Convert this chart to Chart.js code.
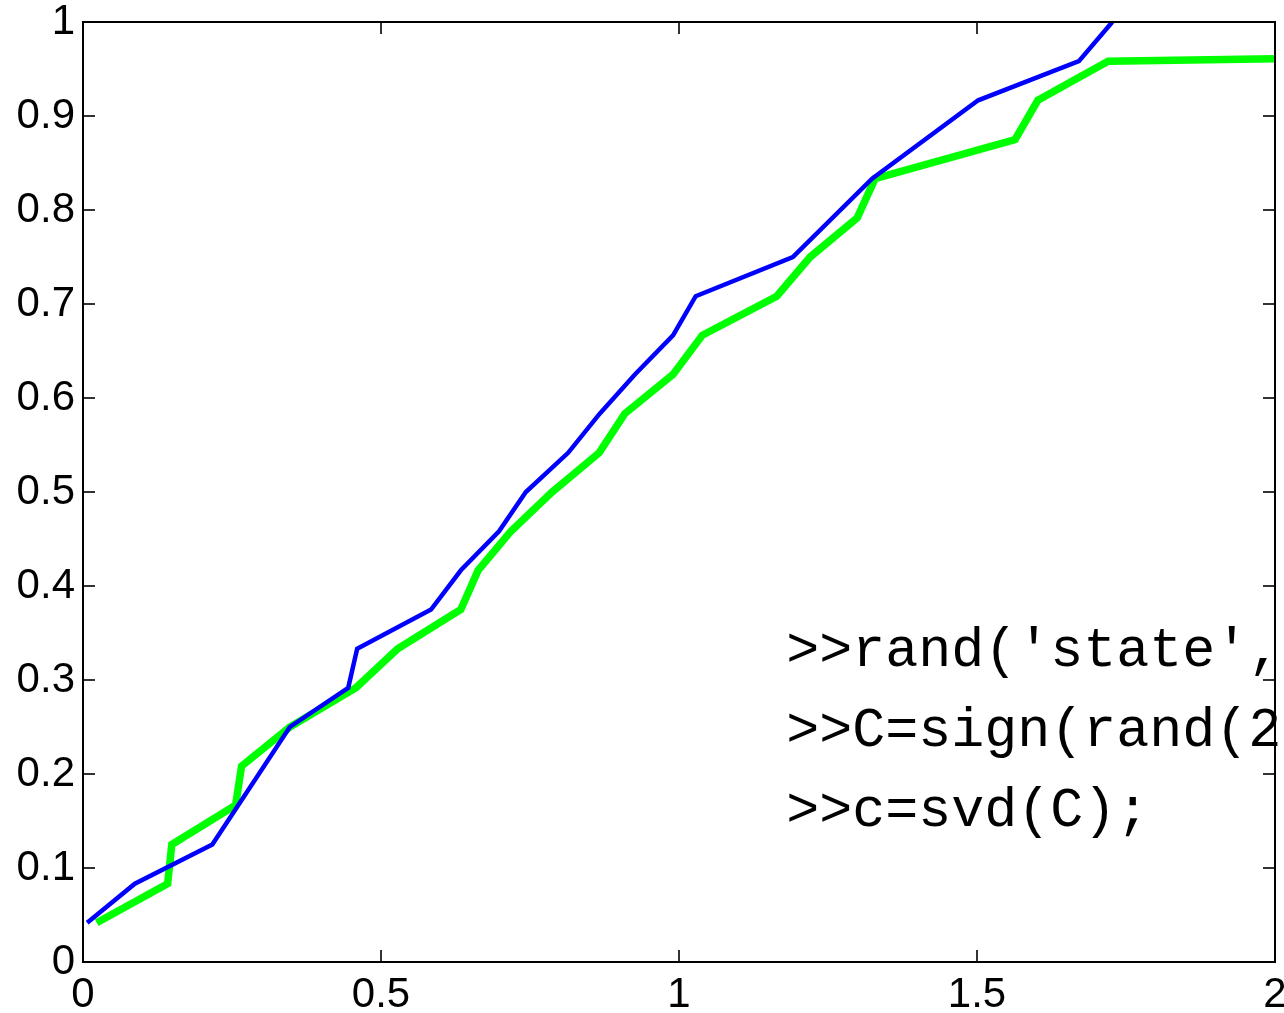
<!DOCTYPE html>
<html>
<head>
<meta charset="utf-8">
<script src="https://cdn.jsdelivr.net/npm/chart.js@4/dist/chart.umd.min.js"></script>
<style>
html,body{margin:0;padding:0;background:#fff;}
#wrap{width:1284px;height:1013px;}
</style>
</head>
<body>
<div id="wrap"><canvas id="c" width="1284" height="1013"></canvas></div>
<script>
// Blue series (x, y)
const blueX = [0.007,0.087,0.217,0.347,0.445,0.460,0.584,0.634,0.698,0.743,0.814,0.867,0.926,0.990,1.028,1.191,1.324,1.502,1.671,1.727];
const blueY = [0.0417,0.0833,0.125,0.25,0.2917,0.3333,0.375,0.4167,0.4583,0.5,0.5417,0.5833,0.625,0.6667,0.7083,0.75,0.8333,0.9167,0.9583,1.0];
// Green series (x, y)
const greenX = [0.023,0.142,0.149,0.256,0.266,0.347,0.458,0.528,0.634,0.663,0.718,0.787,0.866,0.909,0.990,1.039,1.164,1.220,1.299,1.329,1.564,1.602,1.720,2.0];
const greenY = [0.0417,0.0833,0.125,0.1667,0.2083,0.25,0.2917,0.3333,0.375,0.4167,0.4583,0.5,0.5417,0.5833,0.625,0.6667,0.7083,0.75,0.7917,0.8333,0.875,0.9167,0.9583,0.961];
// Tick labels
const xTicks = [0,0.5,1,1.5,2];
const xTickLabels = ['0','0.5','1','1.5','2'];
const yTicks = [0,0.1,0.2,0.3,0.4,0.5,0.6,0.7,0.8,0.9,1];
const yTickLabels = ['0','0.1','0.2','0.3','0.4','0.5','0.6','0.7','0.8','0.9','1'];
// Annotation text
const noteLines = [">>rand('state',", ">>C=sign(rand(2", ">>c=svd(C);"];
const noteX = 1.18;
const noteY = [0.330, 0.245, 0.160];

const toPts = (xs, ys) => xs.map((x, i) => ({x: x, y: ys[i]}));

const boxPlugin = {
  id: 'box',
  afterDatasetsDraw(chart) {
    const ctx = chart.ctx;
    const xs = chart.scales.x, ys = chart.scales.y;
    ctx.save();
    ctx.fillStyle = '#000';
    ctx.font = '55px "Liberation Mono", "DejaVu Sans Mono", monospace';
    ctx.textBaseline = 'middle';
    ctx.textAlign = 'left';
    noteLines.forEach((t, i) => {
      ctx.fillText(t, xs.getPixelForValue(noteX), ys.getPixelForValue(noteY[i]));
    });
    ctx.restore();
  },
  afterDraw(chart) {
    const ctx = chart.ctx;
    const a = chart.chartArea;
    const xs = chart.scales.x, ys = chart.scales.y;
    const tl = 12;
    ctx.save();
    ctx.strokeStyle = '#333';
    ctx.lineWidth = 2;
    ctx.beginPath();
    xTicks.forEach(v => {
      const p = xs.getPixelForValue(v);
      ctx.moveTo(p, a.bottom); ctx.lineTo(p, a.bottom - tl);
      ctx.moveTo(p, a.top); ctx.lineTo(p, a.top + tl);
    });
    yTicks.forEach(v => {
      const p = ys.getPixelForValue(v);
      ctx.moveTo(a.left, p); ctx.lineTo(a.left + tl, p);
      ctx.moveTo(a.right, p); ctx.lineTo(a.right - tl, p);
    });
    ctx.stroke();
    ctx.strokeStyle = '#000';
    ctx.lineWidth = 2;
    ctx.strokeRect(a.left, a.top, a.right - a.left, a.bottom - a.top);
    ctx.restore();
  }
};

const labelFont = {family: '"Liberation Sans", Arial, sans-serif', size: 42};

new Chart(document.getElementById('c'), {
  type: 'line',
  data: {
    datasets: [
      {data: toPts(blueX, blueY), borderColor: '#0000ff', borderWidth: 4.5, pointRadius: 0, tension: 0, fill: false},
      {data: toPts(greenX, greenY), borderColor: '#00ff00', borderWidth: 7.5, pointRadius: 0, tension: 0, fill: false}
    ]
  },
  options: {
    responsive: false,
    animation: false,
    devicePixelRatio: 1,
    layout: {padding: {left: 0, top: 22, right: 9, bottom: 0}},
    plugins: {legend: {display: false}, tooltip: {enabled: false}},
    scales: {
      x: {
        type: 'linear', min: 0, max: 2,
        afterBuildTicks: s => { s.ticks = xTicks.map(v => ({value: v})); },
        afterFit: s => { s.height = 51; s.paddingLeft = 0; s.paddingRight = 0; s.paddingTop = 0; s.paddingBottom = 0; },
        grid: {display: false, drawTicks: false},
        border: {display: false},
        ticks: {
          padding: 8, color: '#000', maxRotation: 0, autoSkip: false,
          font: labelFont,
          callback: (v) => { const i = xTicks.indexOf(v); return i >= 0 ? xTickLabels[i] : ''; }
        }
      },
      y: {
        type: 'linear', min: 0, max: 1,
        afterBuildTicks: s => { s.ticks = yTicks.map(v => ({value: v})); },
        afterFit: s => { s.width = 83; s.paddingLeft = 0; s.paddingRight = 0; s.paddingTop = 0; s.paddingBottom = 0; },
        grid: {display: false, drawTicks: false},
        border: {display: false},
        ticks: {
          padding: 8, color: '#000', autoSkip: false,
          font: labelFont,
          callback: (v) => { const i = yTicks.findIndex(t => Math.abs(t - v) < 1e-9); return i >= 0 ? yTickLabels[i] : ''; }
        }
      }
    }
  },
  plugins: [boxPlugin]
});
</script>
</body>
</html>
